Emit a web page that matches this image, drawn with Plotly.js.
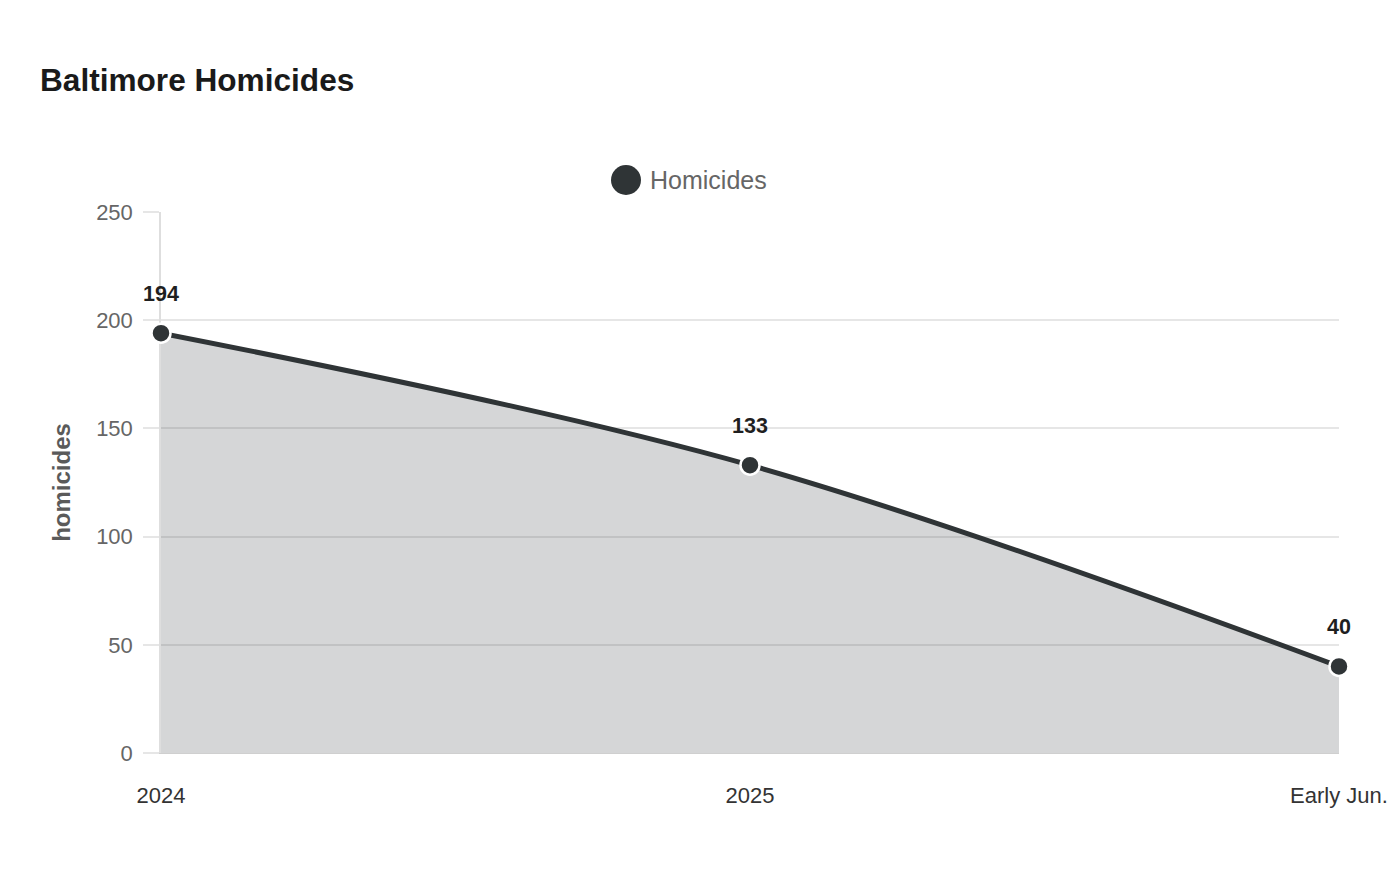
<!DOCTYPE html>
<html>
<head>
<meta charset="utf-8">
<script src="https://cdn.plot.ly/plotly-3.0.1.min.js"></script>
<style>html,body{margin:0;padding:0;background:#fff;}#chart{width:1400px;height:880px;}</style>
</head>
<body>
<div id="chart"></div>
<script>
const categories = ["2024", "2025", "Early Jun."];
const homicides = [194, 133, 40];
const seriesName = "Homicides";
const yTicks = [0, 50, 100, 150, 200, 250];

const lineColor = "#2f3436";
const W = 1400, H = 880;
const L = 161, R = 61, T = 212, B = 127;
const pw = W - L - R, ph = H - T - B;

const trace = {
  x: categories,
  y: homicides,
  name: seriesName,
  type: "scatter",
  mode: "lines+markers",
  line: {color: lineColor, width: 5, shape: "spline", smoothing: 1},
  marker: {color: lineColor, size: 19, line: {color: "#ffffff", width: 2.5}},
  fill: "tozeroy",
  fillcolor: "rgba(47,52,54,0.2)",
  cliponaxis: false,
  showlegend: false,
  hoverinfo: "x+y"
};

const labelAnnotations = categories.map((c, i) => ({
  x: i, y: homicides[i], xref: "x", yref: "y",
  text: "<b>" + homicides[i] + "</b>", showarrow: false,
  yshift: 39, font: {family: "Liberation Sans, Arial, sans-serif", size: 21.5, color: "#1f1f1f"}
}));

const legendCx = (626 - L) / pw, legendCy = (H - B - 180) / ph;

const layout = {
  width: W, height: H,
  margin: {l: L, r: R, t: T, b: B},
  paper_bgcolor: "#ffffff", plot_bgcolor: "#ffffff",
  font: {family: "Liberation Sans, Arial, sans-serif", color: "#666"},
  title: {
    text: "<b>Baltimore Homicides</b>",
    font: {family: "Liberation Sans, Arial, sans-serif", size: 31.6, color: "#1a1a1a"},
    xref: "container", yref: "container", x: 40 / W, xanchor: "left", y: 1 - 80 / H, yanchor: "middle"
  },
  xaxis: {
    type: "category", range: [0, categories.length - 1],
    showgrid: false, zeroline: false,
    showline: true, linecolor: "#cfcfcf", linewidth: 1, layer: "below traces",
    ticks: "", ticklabelstandoff: 23,
    tickfont: {size: 22, color: "#333"}
  },
  yaxis: {
    range: [0, 250], tickvals: yTicks, showgrid: true, gridcolor: "#e6e6e6", gridwidth: 1.5,
    zeroline: false, showline: true, linecolor: "#dedede", linewidth: 1.5, layer: "below traces",
    ticks: "outside", ticklen: 16, tickcolor: "#e6e6e6", tickwidth: 1.5, ticklabelstandoff: 6,
    tickfont: {size: 22, color: "#666"},
    title: {text: "<b>homicides</b>", font: {size: 24, color: "#5a5a5a"}, standoff: 19}
  },
  shapes: [{
    type: "circle", xref: "paper", yref: "paper", xsizemode: "pixel", ysizemode: "pixel",
    xanchor: legendCx, yanchor: legendCy, x0: -15, x1: 15, y0: -15, y1: 15,
    fillcolor: lineColor, line: {width: 0}
  }],
  annotations: labelAnnotations.concat([{
    xref: "paper", yref: "paper", x: (648 - L) / pw, y: legendCy, xanchor: "left", yanchor: "middle",
    text: seriesName, showarrow: false, font: {size: 25, color: "#666"}
  }])
};

Plotly.newPlot("chart", [trace], layout, {displayModeBar: false, responsive: false});
</script>
</body>
</html>
